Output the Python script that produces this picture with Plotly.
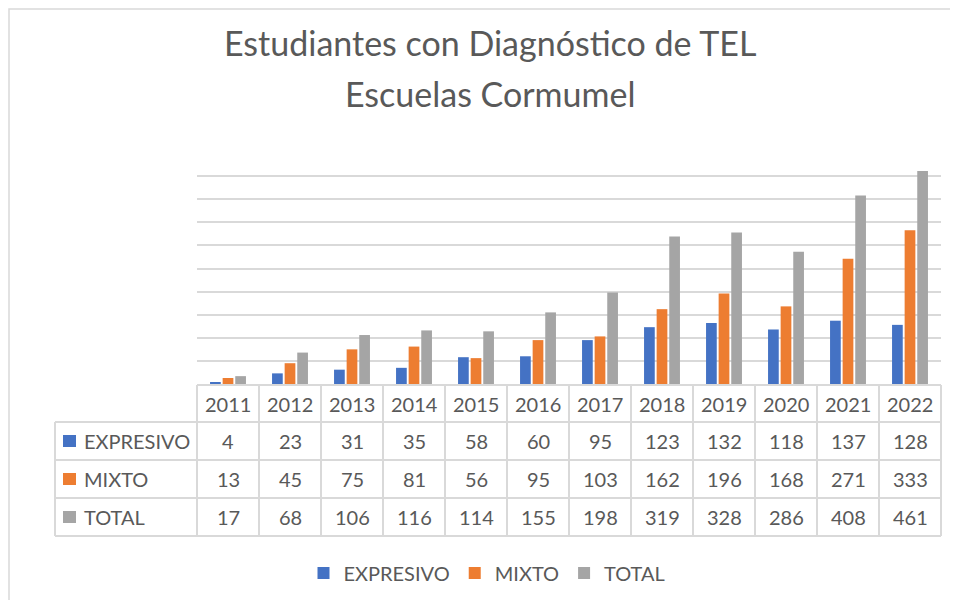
import plotly.graph_objects as go

# ---- data ----
years = ["2011", "2012", "2013", "2014", "2015", "2016", "2017", "2018", "2019", "2020", "2021", "2022"]
expresivo = [4, 23, 31, 35, 58, 60, 95, 123, 132, 118, 137, 128]
mixto = [13, 45, 75, 81, 56, 95, 103, 162, 196, 168, 271, 333]
total = [17, 68, 106, 116, 114, 155, 198, 319, 328, 286, 408, 461]
series_names = ["EXPRESIVO", "MIXTO", "TOTAL"]
series_values = [expresivo, mixto, total]
colors = ["#4472C4", "#ED7D31", "#A5A5A5"]
title_lines = ["Estudiantes con Diagnóstico de TEL", "Escuelas Cormumel"]

OFF = 8  # page body margin
W, H = 958 - OFF, 608 - 2 * OFF
FONT = "Lato"
TXT = "#595959"
GRID = "#D9D9D9"


def px(x):
    return (x - OFF) / W


def py(y):
    return 1 - (y - OFF) / H


# plot area geometry (screen pixels)
X0, X1 = 197, 941
Y_TOP, Y_BOT = 153, 384
ROWS = [385, 422, 460, 498, 536]
LEFT = 55
ncol = len(years)
colw = (X1 - X0) / ncol

fig = go.Figure()
for name, vals, c in zip(series_names, series_values, colors):
    fig.add_trace(go.Bar(x=years, y=vals, name=name, marker=dict(color=c, line=dict(width=0))))

shapes = []
annotations = []

# outer chart border
shapes.append(dict(type="rect", xref="paper", yref="paper", x0=px(9), y0=py(640), x1=px(990), y1=py(9),
                   line=dict(color=GRID, width=1.5), fillcolor="rgba(0,0,0,0)", layer="below"))

# table horizontal lines
shapes.append(dict(type="line", xref="paper", yref="paper", x0=px(X0), x1=px(X1), y0=py(ROWS[0]), y1=py(ROWS[0]),
                   line=dict(color=GRID, width=2)))
for r in ROWS[1:]:
    shapes.append(dict(type="line", xref="paper", yref="paper", x0=px(LEFT), x1=px(X1), y0=py(r), y1=py(r),
                       line=dict(color=GRID, width=2)))
# vertical lines
shapes.append(dict(type="line", xref="paper", yref="paper", x0=px(LEFT), x1=px(LEFT), y0=py(ROWS[1]), y1=py(ROWS[-1]),
                   line=dict(color=GRID, width=2)))
for i in range(ncol + 1):
    xx = X0 + colw * i
    shapes.append(dict(type="line", xref="paper", yref="paper", x0=px(xx), x1=px(xx), y0=py(ROWS[0]), y1=py(ROWS[-1]),
                       line=dict(color=GRID, width=2)))

tfont = dict(family=FONT, size=20, color=TXT)
# header years
for i, yr in enumerate(years):
    annotations.append(dict(xref="paper", yref="paper", x=px(X0 + colw * (i + 0.5)), y=py((ROWS[0] + ROWS[1]) / 2),
                            text=yr, showarrow=False, xanchor="center", yanchor="middle", font=tfont))
# rows
for r, (name, vals, c) in enumerate(zip(series_names, series_values, colors)):
    yc = (ROWS[r + 1] + ROWS[r + 2]) / 2
    shapes.append(dict(type="rect", xref="paper", yref="paper", x0=px(63), x1=px(76), y0=py(yc + 6), y1=py(yc - 6),
                       fillcolor=c, line=dict(width=0)))
    annotations.append(dict(xref="paper", yref="paper", x=px(82), y=py(yc), text=name, showarrow=False,
                            xanchor="left", yanchor="middle", font=tfont))
    for i, v in enumerate(vals):
        annotations.append(dict(xref="paper", yref="paper", x=px(X0 + colw * (i + 0.5)), y=py(yc),
                                text=str(v), showarrow=False, xanchor="center", yanchor="middle", font=tfont))

# title
annotations.append(dict(xref="paper", yref="paper", x=px(490), y=py(43), text=title_lines[0], showarrow=False,
                        xanchor="center", yanchor="middle", font=dict(family=FONT, size=34, color=TXT)))
annotations.append(dict(xref="paper", yref="paper", x=px(490), y=py(93), text=title_lines[1], showarrow=False,
                        xanchor="center", yanchor="middle", font=dict(family=FONT, size=34, color=TXT)))

fig.update_layout(
    width=W, height=H,
    margin=dict(l=0, r=0, t=0, b=0),
    paper_bgcolor="white", plot_bgcolor="white",
    barmode="group", bargap=0.39, bargroupgap=0.15,
    showlegend=True,
    legend=dict(orientation="h", x=px(487), xanchor="center", y=py(573), yanchor="middle",
                font=dict(family=FONT, size=20, color=TXT), bgcolor="rgba(0,0,0,0)"),
    xaxis=dict(domain=[px(X0), px(X1)], showticklabels=False, showgrid=False, zeroline=False, showline=False,
               ticks=""),
    yaxis=dict(domain=[py(Y_BOT), py(Y_TOP)], range=[0, 500], dtick=50, showticklabels=False,
               showgrid=True, gridcolor=GRID, gridwidth=1.5, zeroline=False, showline=False, ticks=""),
    shapes=shapes,
    annotations=annotations,
)

fig.write_html("out.html")
